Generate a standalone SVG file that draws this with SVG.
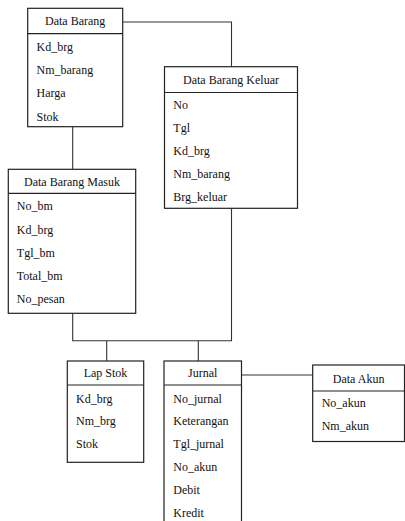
<svg xmlns="http://www.w3.org/2000/svg" width="405" height="521" viewBox="0 0 405 521">
<style>
.box{fill:#fff;stroke:#222;stroke-width:1.2}
.div{stroke:#222;stroke-width:1.2}
.t{font-family:"Liberation Serif","Times New Roman",serif;font-size:12px;fill:#111}
.c{text-anchor:middle}
.conn{fill:none;stroke:#333;stroke-width:1.1}
</style>
<rect width="405" height="521" fill="#fff"/>
<g id="connectors">
<polyline class="conn" points="122.7,22 231.5,22 231.5,66.7"/>
<line class="conn" x1="72.7" y1="126.7" x2="72.7" y2="169.3"/>
<polyline class="conn" points="72.7,313.3 72.7,340.7 231.5,340.7 231.5,208.3"/>
<line class="conn" x1="106.7" y1="340.7" x2="106.7" y2="361"/>
<line class="conn" x1="198.3" y1="340.7" x2="198.3" y2="361"/>
<line class="conn" x1="241.5" y1="375" x2="312.7" y2="375"/>
</g>
<g id="data-barang">
<rect class="box" x="27.7" y="8.3" width="95" height="118.4"/>
<line class="div" x1="27.7" y1="33.7" x2="122.7" y2="33.7"/>
<text class="t c" x="75.2" y="25.3">Data Barang</text>
<text class="t" x="36.5" y="51">Kd_brg</text>
<text class="t" x="36.5" y="74.2">Nm_barang</text>
<text class="t" x="36.5" y="97.4">Harga</text>
<text class="t" x="36.5" y="120.6">Stok</text>
</g>
<g id="data-barang-keluar">
<rect class="box" x="164.5" y="66.7" width="133" height="141.6"/>
<line class="div" x1="164.5" y1="92.5" x2="297.5" y2="92.5"/>
<text class="t c" x="231" y="83.8">Data Barang Keluar</text>
<text class="t" x="173.3" y="109">No</text>
<text class="t" x="173.3" y="132">Tgl</text>
<text class="t" x="173.3" y="155">Kd_brg</text>
<text class="t" x="173.3" y="178">Nm_barang</text>
<text class="t" x="173.3" y="201">Brg_keluar</text>
</g>
<g id="data-barang-masuk">
<rect class="box" x="8.3" y="169.3" width="127.4" height="144"/>
<line class="div" x1="8.3" y1="193.3" x2="135.7" y2="193.3"/>
<text class="t c" x="72" y="185.5">Data Barang Masuk</text>
<text class="t" x="16.8" y="210.3">No_bm</text>
<text class="t" x="16.8" y="233.5">Kd_brg</text>
<text class="t" x="16.8" y="256.7">Tgl_bm</text>
<text class="t" x="16.8" y="279.9">Total_bm</text>
<text class="t" x="16.8" y="303.1">No_pesan</text>
</g>
<g id="lap-stok">
<rect class="box" x="67.3" y="361" width="76.4" height="101.3"/>
<line class="div" x1="67.3" y1="385" x2="143.7" y2="385"/>
<text class="t c" x="105.5" y="377.2">Lap Stok</text>
<text class="t" x="76" y="402.5">Kd_brg</text>
<text class="t" x="76" y="425.3">Nm_brg</text>
<text class="t" x="76" y="448.1">Stok</text>
</g>
<g id="jurnal">
<rect class="box" x="164" y="361" width="77.5" height="170"/>
<line class="div" x1="164" y1="385" x2="241.5" y2="385"/>
<text class="t c" x="202.7" y="377.2">Jurnal</text>
<text class="t" x="173.3" y="402.5">No_jurnal</text>
<text class="t" x="173.3" y="425.3">Keterangan</text>
<text class="t" x="173.3" y="448.1">Tgl_jurnal</text>
<text class="t" x="173.3" y="470.9">No_akun</text>
<text class="t" x="173.3" y="493.7">Debit</text>
<text class="t" x="173.3" y="516.5">Kredit</text>
</g>
<g id="data-akun">
<rect class="box" x="312.7" y="365" width="91.8" height="76.5"/>
<line class="div" x1="312.7" y1="391" x2="404.5" y2="391"/>
<text class="t c" x="358.6" y="382.5">Data Akun</text>
<text class="t" x="321.7" y="406.7">No_akun</text>
<text class="t" x="321.7" y="429.7">Nm_akun</text>
</g>
</svg>
